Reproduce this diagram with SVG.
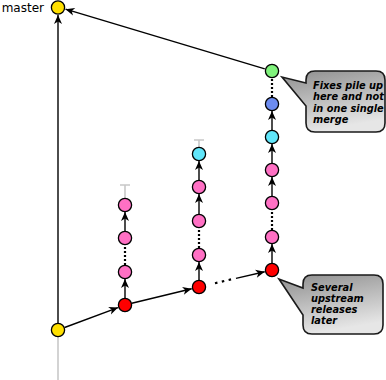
<svg xmlns="http://www.w3.org/2000/svg" width="386" height="380" viewBox="0 0 386 380">
<style>
.n{stroke:#000;stroke-width:1.3}
.y{fill:#ffe000}.r{fill:#ff0000}.p{fill:#ff70c4}.c{fill:#60e6fa}.b{fill:#6d8cf0}.g{fill:#80f27c}
.l{stroke:#000;stroke-width:1.4;fill:none}
.d{stroke:#000;stroke-width:2.2;fill:none;stroke-dasharray:2,2}
.gr{stroke:#c8c8c8;stroke-width:1.6;fill:none}
.t{font-family:"DejaVu Sans",sans-serif;font-weight:bold;font-style:italic;font-size:9.8px;fill:#000}
.co{fill:url(#cg);stroke:#1a1a1a;stroke-width:1.6}
</style>
<defs>
<linearGradient id="cg" x1="0" y1="0" x2="0.3" y2="1">
<stop offset="0" stop-color="#8e8e8e"/>
<stop offset="1" stop-color="#e6e6e6"/>
</linearGradient>
<marker id="ah" viewBox="-10 -5 11 10" refX="0" refY="0" markerWidth="11" markerHeight="10" markerUnits="userSpaceOnUse" orient="auto">
<path d="M0,0 L-9,-4 L-6.5,0 L-9,4Z" fill="#000"/>
</marker>
</defs>
<g id="connectors">
<path class="gr" d="M58,337 V380"/>
<path class="gr" d="M125,198 V185 M120,185 H130"/>
<path class="gr" d="M199,147 V140 M194,140 H204"/>
<path class="l" marker-end="url(#ah)" d="M58,323 V15"/>
<path class="l" marker-end="url(#ah)" d="M264.8,68.9 L65.5,9.2"/>
<path class="l" marker-end="url(#ah)" d="M64.6,327.5 L118,307.6"/>
<path class="l" marker-end="url(#ah)" d="M131.8,303.3 L191.7,288.8"/>
<path class="d" style="stroke-dasharray:2.5,4.5" d="M215,283.2 L232,279.2"/>
<path class="l" marker-end="url(#ah)" d="M236,278.4 L264.7,271.7"/>
<path class="l" marker-end="url(#ah)" d="M125,298 V279"/>
<path class="d" d="M125,265 V245"/>
<path class="l" marker-end="url(#ah)" d="M125,231 V212"/>
<path class="l" marker-end="url(#ah)" d="M199,280 V262"/>
<path class="d" d="M199,248 V228"/>
<path class="l" marker-end="url(#ah)" d="M199,214 V194"/>
<path class="l" marker-end="url(#ah)" d="M199,180 V161"/>
<path class="l" marker-end="url(#ah)" d="M272,263 V244"/>
<path class="d" d="M272,230 V210"/>
<path class="l" marker-end="url(#ah)" d="M272,196 V177"/>
<path class="l" marker-end="url(#ah)" d="M272,163 V144"/>
<path class="l" marker-end="url(#ah)" d="M272,130 V111"/>
<path class="d" d="M272,97 V78"/>
</g>
<g id="master"><circle class="n y" cx="58" cy="7.5" r="6.6"/>
<text x="44" y="12" style="font-family:'DejaVu Sans',sans-serif;font-size:12px" text-anchor="end">master</text></g>
<g id="base"><circle class="n y" cx="58" cy="330" r="6.6"/></g>
<g id="b1">
<circle class="n r" cx="125" cy="305" r="6.6"/>
<circle class="n p" cx="125" cy="272" r="6.6"/>
<circle class="n p" cx="125" cy="238" r="6.6"/>
<circle class="n p" cx="125" cy="205" r="6.6"/>
</g>
<g id="b2">
<circle class="n r" cx="199" cy="287" r="6.6"/>
<circle class="n p" cx="199" cy="255" r="6.6"/>
<circle class="n p" cx="199" cy="221" r="6.6"/>
<circle class="n p" cx="199" cy="187" r="6.6"/>
<circle class="n c" cx="199" cy="154" r="6.6"/>
</g>
<g id="b3">
<circle class="n r" cx="272" cy="270" r="6.6"/>
<circle class="n p" cx="272" cy="237" r="6.6"/>
<circle class="n p" cx="272" cy="203" r="6.6"/>
<circle class="n p" cx="272" cy="170" r="6.6"/>
<circle class="n c" cx="272" cy="137" r="6.6"/>
<circle class="n b" cx="272" cy="104" r="6.6"/>
<circle class="n g" cx="272" cy="71" r="6.6"/>
</g>
<g id="callout1">
<path class="co" d="M315,71 H376 Q385,71 385,80 V123 Q385,132 376,132 H315 Q306,132 306,123 V106 L282,77 L306,83 V80 Q306,71 315,71 Z"/>
<text class="t" x="313" y="88.5">Fixes pile up</text>
<text class="t" x="313" y="100">here and not</text>
<text class="t" x="313" y="111.5">in one single</text>
<text class="t" x="313" y="122.5">merge</text>
</g>
<g id="callout2">
<path class="co" d="M312,275 H374 Q383,275 383,284 V325 Q383,334 374,334 H312 Q303,334 303,325 V315 L279,279 L303,288 V284 Q303,275 312,275 Z"/>
<text class="t" x="311" y="291">Several</text>
<text class="t" x="311" y="302">upstream</text>
<text class="t" x="311" y="313">releases</text>
<text class="t" x="311" y="324">later</text>
</g>
</svg>
